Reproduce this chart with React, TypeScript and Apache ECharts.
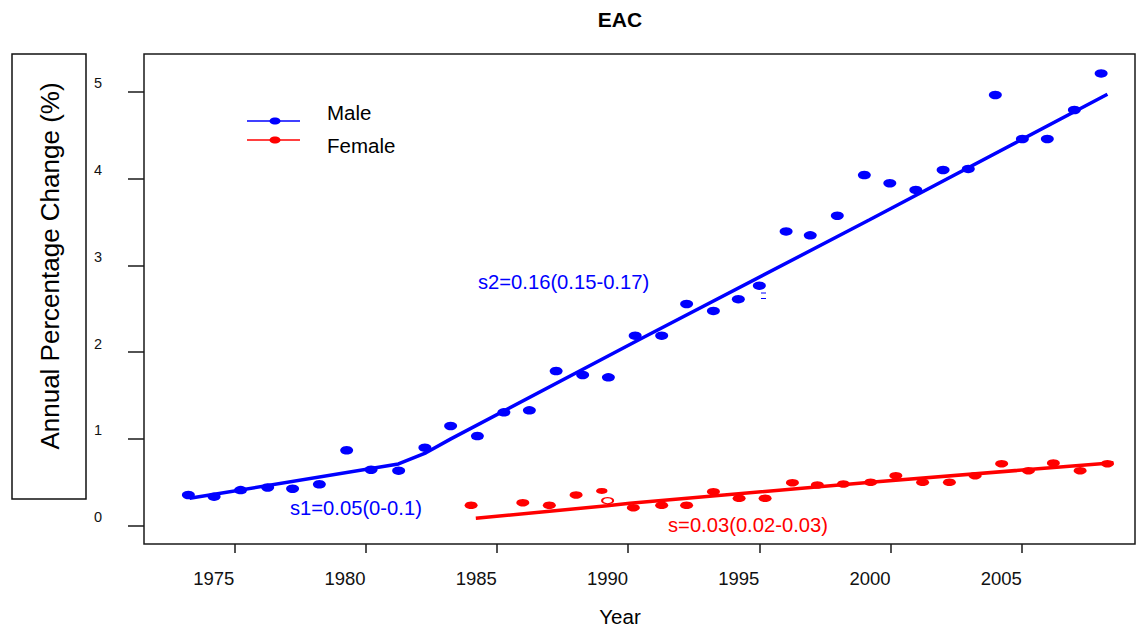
import React, { useEffect, useRef } from "react";
import * as echarts from "echarts";

// ---- data ----
const xTicks = [1975, 1980, 1985, 1990, 1995, 2000, 2005];
const yTicks = [0, 1, 2, 3, 4, 5];

const maleX = [1973.25, 1974.23, 1975.24, 1976.27, 1977.22, 1978.24, 1979.28, 1980.21, 1981.26, 1982.26, 1983.24, 1984.26, 1985.27, 1986.24, 1987.26, 1988.27, 1989.25, 1990.27, 1991.28, 1992.23, 1993.25, 1994.2, 1995.0, 1996.02, 1996.94, 1997.97, 1999.0, 1999.97, 2000.96, 2002.0, 2002.96, 2003.99, 2005.02, 2005.97, 2007.0, 2008.02];
const maleY = [0.354, 0.334, 0.41, 0.44, 0.426, 0.477, 0.869, 0.645, 0.634, 0.899, 1.149, 1.033, 1.306, 1.329, 1.782, 1.736, 1.709, 2.189, 2.189, 2.554, 2.474, 2.61, 2.765, 3.39, 3.345, 3.571, 4.04, 3.945, 3.868, 4.098, 4.11, 4.962, 4.455, 4.455, 4.789, 5.21];

const femaleX = [1984.02, 1985.99, 1987.0, 1988.02, 1990.2, 1991.28, 1992.23, 1993.25, 1994.23, 1995.22, 1996.26, 1997.21, 1998.2, 1999.24, 2000.2, 2001.22, 2002.24, 2003.22, 2004.23, 2005.25, 2006.2, 2007.22, 2008.26];
const femaleY = [0.235, 0.265, 0.235, 0.354, 0.207, 0.235, 0.235, 0.392, 0.315, 0.315, 0.495, 0.469, 0.48, 0.5, 0.576, 0.5, 0.5, 0.576, 0.714, 0.634, 0.722, 0.634, 0.714];
const femaleSmallPoint = [1989.0, 0.4];
const femaleOpenPoint = [1989.22, 0.288];

const maleFitX = [1973.3, 1981.25, 1982.3, 1983.25, 1990.45, 1999.2, 2008.26];
const maleFitY = [0.315, 0.711, 0.84, 1.0, 2.147, 3.524, 4.97];
const femaleFitX = [1984.2, 1989.2, 1990.07, 1999.24, 2008.49];
const femaleFitY = [0.085, 0.23, 0.258, 0.5, 0.726];

const labels = {
  title: "EAC",
  xName: "Year",
  yName: "Annual Percentage Change (%)",
  male: "Male",
  female: "Female",
  s1: "s1=0.05(0-0.1)",
  s2: "s2=0.16(0.15-0.17)",
  sF: "s=0.03(0.02-0.03)",
};

const zip = (a: number[], b: number[]) => a.map((v, i) => [v, b[i]]);

const FONT = "'Liberation Sans', Arial, Helvetica, sans-serif";
const BLUE = "#0000ff";
const RED = "#ff0000";
const INK = "#111111";

function txt(text: string, x: number, y: number, size: number, color: string, align = "left", extra: any = {}) {
  const { bold, ...rest } = extra;
  return {
    type: "text",
    x,
    y,
    silent: true,
    ...rest,
    style: {
      text,
      fill: color,
      fontSize: size,
      fontFamily: FONT,
      fontWeight: bold ? "bold" : "normal",
      align,
      verticalAlign: "middle",
      textAlign: align,
      textVerticalAlign: "middle",
    },
  };
}

export default function App() {
  const ref = useRef<HTMLDivElement>(null);

  useEffect(() => {
    document.body.style.margin = "0";
    const chart = echarts.init(ref.current!, null, { renderer: "svg" });

    const option: any = {
      animation: false,
      backgroundColor: "#ffffff",
      grid: {
        left: 144,
        right: 2,
        top: 54,
        bottom: 88,
        show: true,
        borderColor: "#1a1a1a",
        borderWidth: 1.5,
        backgroundColor: "transparent",
      },
      xAxis: {
        type: "value",
        min: 1971.56,
        max: 2009.31,
        axisLine: { show: false, onZero: false },
        splitLine: { show: false },
        axisTick: {
          show: true,
          inside: false,
          length: 9,
          lineStyle: { color: "#1a1a1a", width: 1.5 },
          customValues: xTicks,
        },
        axisLabel: {
          customValues: xTicks,
          align: "right",
          margin: 25,
          fontSize: 18.5,
          color: INK,
          fontFamily: FONT,
          formatter: (v: number) => String(v),
        },
      },
      yAxis: {
        type: "value",
        min: -0.211,
        max: 5.434,
        axisLine: { show: false, onZero: false },
        splitLine: { show: false },
        axisTick: {
          show: true,
          inside: false,
          length: 16,
          lineStyle: { color: "#1a1a1a", width: 1.5 },
          customValues: yTicks,
        },
        axisLabel: {
          customValues: yTicks,
          align: "center",
          verticalAlign: "bottom",
          lineHeight: 17,
          margin: 46,
          fontSize: 14.5,
          color: INK,
          fontFamily: FONT,
          formatter: (v: number) => String(v),
        },
      },
      series: [
        {
          name: "Male fit",
          type: "line",
          data: zip(maleFitX, maleFitY),
          symbol: "none",
          lineStyle: { color: BLUE, width: 3.5 },
          z: 2,
        },
        {
          name: "Female fit",
          type: "line",
          data: zip(femaleFitX, femaleFitY),
          symbol: "none",
          lineStyle: { color: RED, width: 3.5 },
          z: 2,
        },
        {
          name: labels.male,
          type: "scatter",
          data: zip(maleX, maleY),
          symbol: "circle",
          symbolSize: [13, 8.5],
          itemStyle: { color: BLUE, opacity: 1 },
          z: 3,
        },
        {
          name: labels.female,
          type: "scatter",
          data: zip(femaleX, femaleY),
          symbol: "circle",
          symbolSize: [13, 7.5],
          itemStyle: { color: RED, opacity: 1 },
          z: 3,
        },
        {
          name: labels.female + " (small)",
          type: "scatter",
          data: [femaleSmallPoint],
          symbol: "circle",
          symbolSize: [11.5, 6],
          itemStyle: { color: RED, opacity: 1 },
          z: 3,
        },
        {
          name: labels.female + " (open)",
          type: "scatter",
          data: [femaleOpenPoint],
          symbol: "circle",
          symbolSize: [11, 6],
          itemStyle: { color: "#ffffff", borderColor: RED, borderWidth: 1.5, opacity: 1 },
          z: 3,
        },
      ],
      graphic: [
        txt(labels.title, 620, 19, 21, "#000", "center", { bold: true }),
        txt(labels.xName, 620, 616, 20.5, "#000", "center"),
        {
          type: "rect",
          shape: { x: 12, y: 54, width: 74, height: 445 },
          style: { fill: "none", stroke: "#111", lineWidth: 1.5 },
          silent: true,
        },
        txt(labels.yName, 50, 266, 26, "#000", "center", { rotation: Math.PI / 2 }),
        // legend
        {
          type: "line",
          shape: { x1: 247, y1: 121, x2: 300, y2: 121 },
          style: { stroke: BLUE, lineWidth: 1.5 },
          silent: true,
        },
        {
          type: "ellipse",
          shape: { cx: 275, cy: 121, rx: 5.5, ry: 3.6 },
          style: { fill: BLUE },
          silent: true,
        },
        txt(labels.male, 327, 112, 20.5, "#000", "left"),
        {
          type: "line",
          shape: { x1: 247, y1: 140, x2: 300, y2: 140 },
          style: { stroke: RED, lineWidth: 1.5 },
          silent: true,
        },
        {
          type: "ellipse",
          shape: { cx: 275, cy: 140, rx: 5.5, ry: 3.6 },
          style: { fill: RED },
          silent: true,
        },
        txt(labels.female, 327, 145, 20.5, "#000", "left"),
        // slope annotations
        txt(labels.s2, 478, 282, 20.2, BLUE, "left"),
        txt(labels.s1, 290, 508, 20.2, BLUE, "left"),
        txt(labels.sF, 668, 525, 20.2, RED, "left"),
        // small marks below the 1995 point
        {
          type: "line",
          shape: { x1: 761, y1: 293, x2: 766, y2: 293 },
          style: { stroke: BLUE, lineWidth: 1 },
          silent: true,
        },
        {
          type: "line",
          shape: { x1: 761, y1: 298.5, x2: 766, y2: 298.5 },
          style: { stroke: BLUE, lineWidth: 1 },
          silent: true,
        },
      ],
    };

    chart.setOption(option);
    return () => chart.dispose();
  }, []);

  return <div ref={ref} style={{ width: 1137, height: 632 }} />;
}
